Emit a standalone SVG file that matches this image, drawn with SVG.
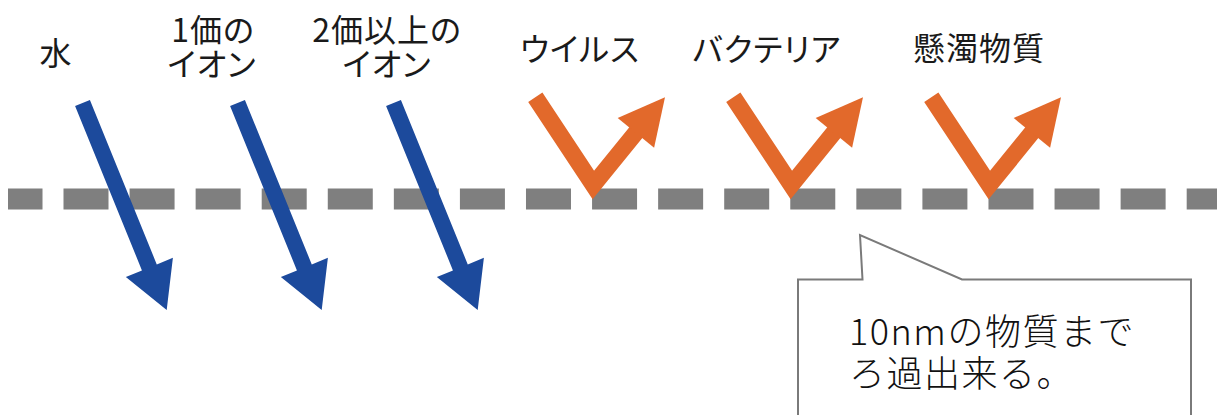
<svg xmlns="http://www.w3.org/2000/svg" xmlns:xlink="http://www.w3.org/1999/xlink" width="1217" height="415" viewBox="0 0 1217 415">
  <style>
    .lbl { font-family: "Noto Sans CJK JP", "Noto Sans", sans-serif; font-size: 32px; font-weight: 400; fill: #1a1a1a; text-anchor: middle; font-feature-settings: "palt"; letter-spacing: 1px; }
    .note { font-family: "Noto Sans CJK JP", "Noto Sans", sans-serif; font-size: 36px; font-weight: 300; fill: #111; letter-spacing: 1.5px; }
    .pass { fill: #1c4a9c; }
    .rej-shaft { fill: none; stroke: #e2692b; stroke-width: 17; stroke-linejoin: miter; }
    .rej-head { fill: #e2692b; }
    .membrane { stroke: #7f7f7f; stroke-width: 21; stroke-dasharray: 45 21.07; }
  </style>
  <defs>
    <path id="passArrow" d="M0,-8 L177.5,-8 L177.5,-25.4 L223.5,0 L177.5,25.4 L177.5,8 L0,8 Z"/>
    <g id="rejArrow">
      <polyline class="rej-shaft" points="535.3,97.2 593.3,185 640,127.5"/>
      <polygon class="rej-head" points="665,97.3 654.1,147.8 617.7,118"/>
    </g>
  </defs>
  <rect width="1217" height="415" fill="#ffffff"/>

  <g id="membrane">
    <rect x="8" y="188.5" width="34.5" height="21" fill="#7f7f7f"/>
    <line class="membrane" x1="63.5" y1="199" x2="1217" y2="199"/>
  </g>

  <g id="labels">
    <g id="label-water"><text class="lbl" x="56" y="65">水</text></g>
    <g id="label-mono"><text class="lbl" x="213" y="42">1価の</text><text class="lbl" x="212" y="76">イオン</text></g>
    <g id="label-multi"><text class="lbl" x="387" y="42">2価以上の</text><text class="lbl" x="387" y="76">イオン</text></g>
    <g id="label-virus"><text class="lbl" x="580" y="61">ウイルス</text></g>
    <g id="label-bacteria"><text class="lbl" x="767" y="61">バクテリア</text></g>
    <g id="label-ss"><text class="lbl" x="979" y="60">懸濁物質</text></g>
  </g>

  <g id="connectors">
    <use href="#passArrow" class="pass" transform="translate(82.5,103) rotate(67.87)"/>
    <use href="#passArrow" class="pass" transform="translate(237.5,103) rotate(67.87)"/>
    <use href="#passArrow" class="pass" transform="translate(393.5,103) rotate(67.87)"/>
    <use href="#rejArrow"/>
    <use href="#rejArrow" transform="translate(198,0)"/>
    <use href="#rejArrow" transform="translate(396,0)"/>
  </g>

  <g id="callout">
    <path d="M798,420 L798,279.5 L862.5,279.5 L860,235 L962,279.5 L1191,279.5 L1191,420" fill="#ffffff" stroke="#7a7a7a" stroke-width="2"/>
    <text class="note" x="849" y="345">10nmの物質まで</text>
    <text class="note" x="849" y="387">ろ過出来る。</text>
  </g>
</svg>
